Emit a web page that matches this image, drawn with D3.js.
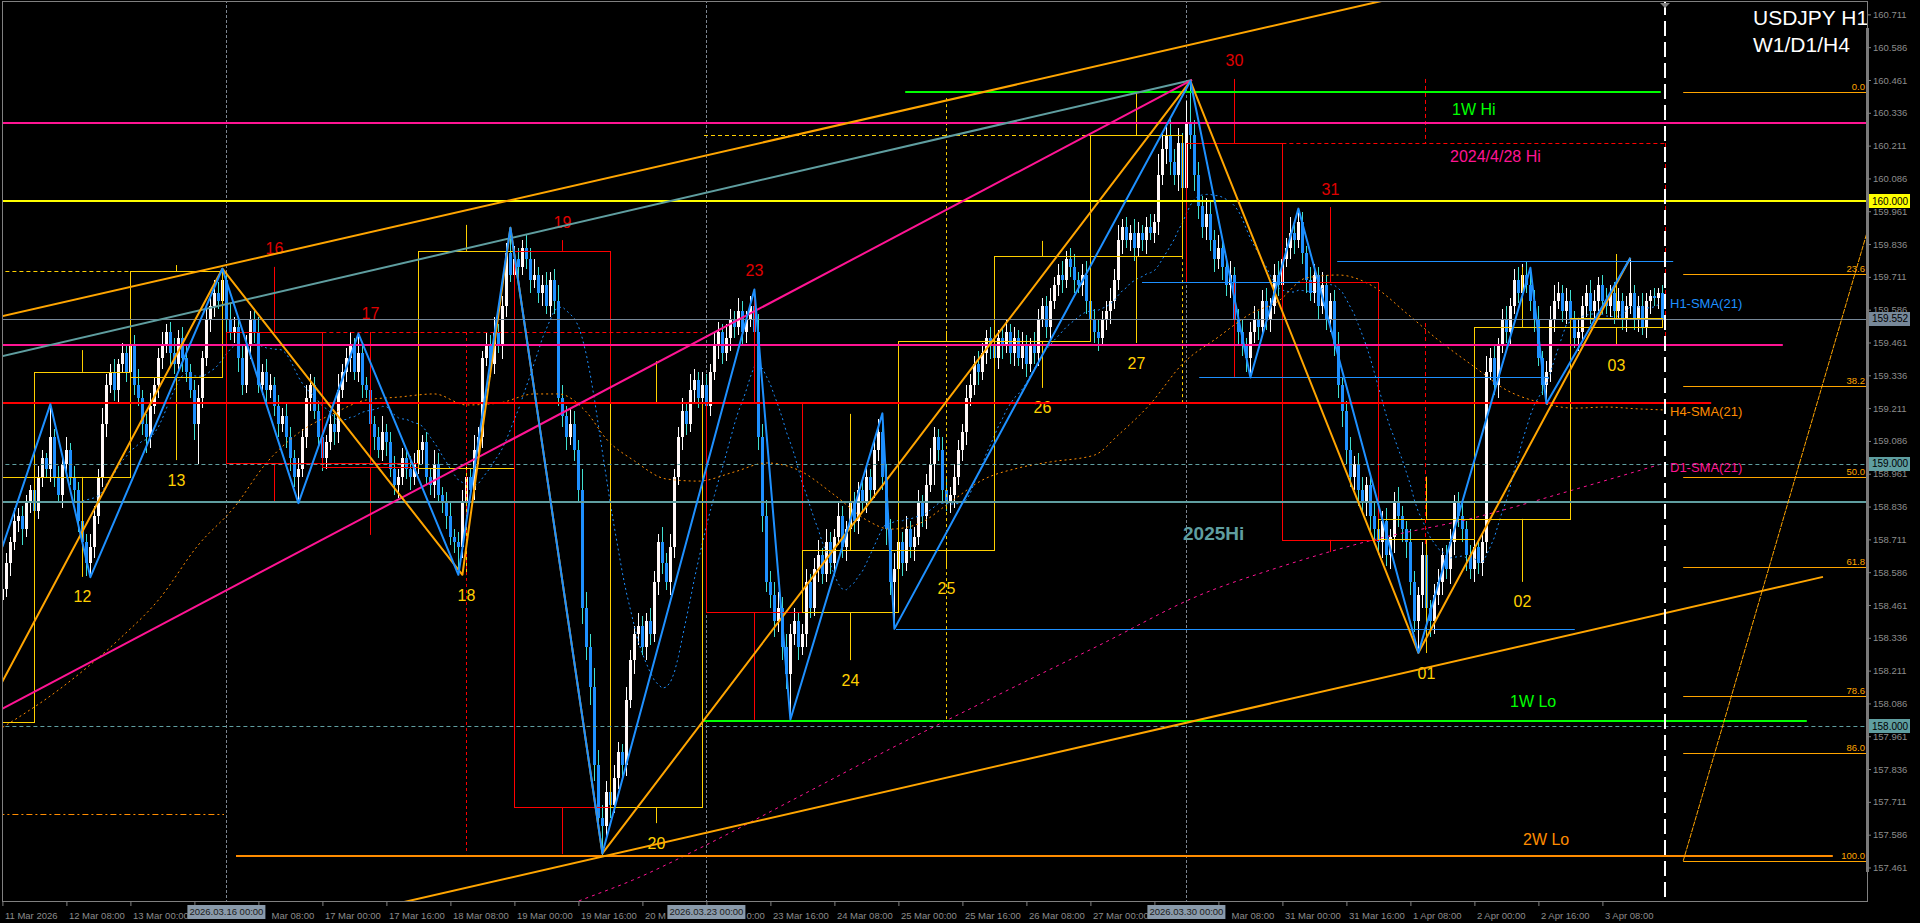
<!DOCTYPE html>
<html><head><meta charset="utf-8">
<script src="https://cdn.jsdelivr.net/npm/d3@7/dist/d3.min.js"></script>
<style>
html,body{margin:0;padding:0;background:#000;overflow:hidden;}
svg{display:block;}
text{font-family:"Liberation Sans",Arial,sans-serif;}
</style></head>
<body>
<svg id="chart" width="1920" height="923"></svg>
<script>
// ---------- DATA (USDJPY H1, bar 0 = 11 Mar 2026 16:00) ----------
const firstOpen = 158.48;
const closes = [
158.52,158.62,158.70,158.78,158.80,158.75,158.85,158.90,158.82,158.95,159.02,158.98,159.10,
158.95,158.88,159.00,159.05,158.95,158.90,158.78,158.70,158.62,158.68,158.80,
158.95,159.15,159.30,159.35,159.28,159.38,159.42,159.35,159.45,159.30,159.25,159.15,159.10,159.22,159.30,159.40,159.45,159.50,159.42,159.38,159.48,159.40,159.35,159.28,159.15,159.25,159.40,159.55,159.60,159.65,159.62,159.70,
159.55,159.50,159.52,159.40,159.30,159.45,159.55,159.50,159.30,159.35,159.28,159.30,159.22,159.15,159.18,159.10,159.02,158.95,158.98,
159.10,159.25,159.30,159.20,159.10,159.02,159.08,159.15,159.12,159.28,159.35,159.40,159.45,159.35,159.42,
159.30,159.28,159.15,159.10,159.05,159.12,159.08,158.98,158.92,158.95,159.02,158.98,158.95,159.00,159.05,159.08,158.95,158.92,159.00,158.88,158.85,158.80,158.72,158.70,158.68,
158.85,158.95,158.90,159.05,159.10,159.40,159.45,159.38,159.50,159.45,159.60,159.80,159.72,
159.78,159.75,159.82,159.78,159.70,159.72,159.65,159.68,159.60,159.70,159.62,159.25,159.18,159.10,159.15,159.05,158.90,158.45,158.30,158.15,157.85,157.65,157.62,
157.75,157.70,157.80,157.90,157.85,158.10,158.25,158.35,158.38,158.30,158.40,158.35,158.55,158.70,158.62,158.55,158.68,158.95,159.10,159.20,159.15,159.28,159.32,159.25,159.30,159.22,159.35,159.45,159.50,159.42,159.48,159.55,159.52,159.58,159.50,159.55,159.60,159.50,
159.10,158.80,158.55,158.50,158.40,158.45,158.30,158.20,158.35,
158.40,158.30,158.35,158.55,158.45,158.60,158.65,158.58,158.70,158.62,158.72,158.80,158.68,158.75,158.85,158.78,158.90,158.85,158.95,158.90,159.05,159.12,158.95,
158.75,158.55,158.60,
158.70,158.62,158.75,158.68,158.72,158.85,158.80,158.92,159.00,159.10,159.05,158.90,158.85,158.88,158.95,159.05,159.12,159.25,159.30,159.38,159.35,159.42,159.48,159.45,159.40,159.48,159.45,159.50,159.42,159.48,159.40,159.45,159.38,159.45,159.42,159.55,159.60,159.52,159.62,159.68,159.72,159.70,159.78,159.75,159.70,159.68,159.72,159.62,159.55,159.50,159.48,159.55,159.58,159.62,159.70,159.85,159.90,159.85,159.88,159.82,159.88,159.85,159.90,159.88,159.92,160.10,160.20,160.25,160.15,160.10,160.22,160.05,160.30,160.25,
160.10,159.98,159.90,159.95,159.85,159.78,159.82,159.75,159.68,159.72,159.55,159.50,159.45,159.40,159.50,
159.55,159.52,159.62,159.55,159.60,159.72,159.68,159.78,159.82,159.88,159.85,159.92,
159.80,159.70,159.65,159.72,159.60,159.68,159.55,159.62,159.45,159.30,159.20,159.05,158.95,159.00,158.90,158.85,158.92,158.80,158.75,158.70,158.78,158.65,158.72,158.85,158.80,158.75,158.70,158.55,158.40,158.50,
158.65,158.45,158.40,158.50,158.55,158.65,158.60,158.70,158.85,158.80,158.75,158.65,158.60,158.68,158.62,158.70,159.35,159.40,159.30,159.45,159.55,159.50,159.60,159.70,159.65,159.72,159.68,159.62,
159.55,159.40,159.30,159.35,
159.55,159.62,159.65,159.58,159.62,159.55,159.48,159.50,159.60,159.65,159.58,159.62,159.68,159.62,159.60,159.65,159.58,159.62,159.55,159.60,159.65,
159.55,159.60,159.52,159.62,159.64,159.63,159.65,159.552
];
// upper / lower wick lengths in 0.01 JPY
const wickUp = [
3,4,2,5,3,4,3,2,5,4,3,2,13,3,4,2,5,3,4,3,
2,3,5,4,3,6,4,3,5,2,4,3,5,4,6,3,4,5,3,4,
5,3,4,6,3,4,5,3,4,5,3,4,3,5,4,4,3,6,4,3,
5,4,3,4,6,3,5,4,3,4,3,5,4,3,4,3,5,4,3,4,
4,3,5,4,6,3,4,5,3,8,4,3,5,3,4,6,3,4,5,3,
4,3,5,4,6,3,4,3,5,4,3,4,5,3,4,5,4,3,6,4,
3,5,4,6,3,4,4,10,5,4,3,5,4,6,3,4,5,3,4,6,
5,4,6,5,4,8,6,5,7,6,5,4,6,5,4,3,5,4,3,5,
4,3,5,4,3,6,4,5,3,4,5,3,6,4,3,5,4,3,5,4,
3,5,4,3,5,4,3,4,6,7,5,6,4,5,6,4,5,4,5,3,
4,5,3,4,6,3,5,4,3,5,4,3,5,4,3,5,4,3,4,5,
7,5,4,6,3,4,5,3,4,5,3,4,6,4,3,5,4,3,5,4,
3,5,4,3,5,4,3,4,5,3,4,5,3,4,3,5,4,3,5,4,
3,4,5,3,4,5,3,4,5,3,4,5,3,4,5,3,4,5,4,6,
3,4,3,5,4,3,4,5,3,8,6,5,7,5,6,4,8,16,6,5,
4,6,5,4,5,3,4,5,3,4,5,3,4,5,3,4,5,3,4,5,
3,4,6,3,5,4,3,5,4,3,5,4,3,4,5,3,4,5,3,4,
5,3,4,5,3,4,5,3,4,6,4,3,5,4,3,5,4,3,4,5,
3,4,5,3,4,5,3,4,5,3,4,6,4,5,3,4,5,3,4,5,
4,5,7,4,5,3,4,5,6,4,3,5,4,3,5,4,3,5,4,3,
4,5,3,4,5,3,4,13,3,4,5,3,2,3,2,3
];
const wickDn = [
4,3,5,3,4,6,3,4,5,3,4,3,5,4,3,5,4,3,5,4,
3,5,5,4,3,4,5,3,4,5,3,4,5,4,3,4,6,4,3,5,
4,3,5,4,3,5,4,3,6,15,4,3,5,4,3,4,5,3,4,5,
4,3,5,4,3,4,5,3,4,5,3,4,5,4,10,3,4,5,3,4,
5,4,3,5,4,3,4,5,3,4,5,3,4,5,3,4,5,3,4,5,
3,4,5,3,4,5,3,4,5,3,4,5,3,4,10,4,5,3,4,5,
4,3,5,4,3,5,4,3,4,5,3,4,5,3,4,5,3,4,5,3,
4,5,3,4,5,6,5,7,6,5,11,4,5,3,4,5,4,3,5,4,
3,5,4,3,5,4,3,5,4,3,5,4,3,5,4,3,5,4,3,5,
4,3,5,4,3,5,4,3,4,5,6,4,5,6,4,5,6,18,4,5,
3,5,4,3,5,4,3,4,5,3,4,5,3,4,5,3,4,5,3,4,
5,6,5,18,4,5,3,4,5,3,4,5,3,8,4,5,3,4,5,3,
4,5,3,4,5,3,4,5,3,4,5,3,4,5,3,4,5,3,4,5,
3,4,5,3,4,5,3,4,5,3,4,5,3,4,5,3,4,5,3,4,
5,3,4,5,3,4,5,3,4,5,4,6,5,4,6,5,4,5,6,5,
4,5,4,5,4,5,4,5,4,5,4,5,7,4,5,3,4,5,3,4,
5,3,4,5,3,4,5,3,4,5,3,4,5,4,5,6,5,4,5,6,
4,5,6,4,5,6,4,5,6,4,5,6,5,4,12,5,4,6,5,4,
5,4,6,5,4,5,6,4,5,4,5,4,3,4,5,3,4,5,3,4,
5,3,4,5,3,4,7,4,5,3,4,5,3,4,5,3,4,5,3,4,
5,3,4,5,3,4,5,3,4,5,3,4,5,3,4,3
];

const priceTicks = [160.711,160.586,160.461,160.336,160.211,160.086,159.961,159.836,159.711,159.586,159.461,159.336,159.211,159.086,158.961,158.836,158.711,158.586,158.461,158.336,158.211,158.086,157.961,157.836,157.711,157.586,157.461];
const timeTickIdx = [0,16,32,48,64,80,96,112,128,144,160,176,192,208,224,240,256,272,288,304,320,336,352,368,384,400];
const timeLabels = ["11 Mar 2026","12 Mar 08:00","13 Mar 00:00","13 Mar 16:00","16 Mar 08:00","17 Mar 00:00","17 Mar 16:00","18 Mar 08:00","19 Mar 00:00","19 Mar 16:00","20 Mar 08:00","23 Mar 00:00","23 Mar 16:00","24 Mar 08:00","25 Mar 00:00","25 Mar 16:00","26 Mar 08:00","27 Mar 00:00","27 Mar 16:00","30 Mar 08:00","31 Mar 00:00","31 Mar 16:00","1 Apr 08:00","2 Apr 00:00","2 Apr 16:00","3 Apr 08:00"];
const separatorIdx = [56,176,296];
const separatorLabels = ["2026.03.16 00:00","2026.03.23 00:00","2026.03.30 00:00"];

// daily candles (boxes)
const dayStart = [-16,8,32,56,80,104,128,152,176,200,224,248,272,296,320,344,368,392];
const dayEnd   = [8,32,55,80,104,128,152,175,200,224,248,272,295,320,344,368,392,415];
const dayOpen  = [158.015,158.949,159.330,159.501,159.002,158.983,159.810,157.691,159.230,158.434,158.670,159.467,159.790,160.221,159.691,158.712,158.789,159.520];
const dayClose = [158.949,159.349,159.733,159.002,158.987,159.810,157.691,159.234,158.434,158.670,159.467,159.790,160.251,159.691,158.709,158.789,159.520,159.554];
const dayHigh  = [158.949,159.432,159.756,159.749,159.501,159.909,159.851,159.390,159.665,159.189,159.505,159.848,160.415,160.465,159.977,158.950,159.749,159.798];
const dayLow   = [158.015,158.568,159.013,158.853,158.728,158.575,157.512,157.630,158.023,158.251,158.600,159.288,159.459,159.330,158.663,158.278,158.549,159.451];
const dayLabel = ["","12","13","16","17","18","19","20","23","24","25","26","27","30","31","01","02","03"];

// zigzags (bar index, price)
const zzBlueIdx = [0,12,22,55,74,89,114,127,150,188,197,220,223,297,312,324,354,382,386,407];
const zzBluePx  = [158.682,159.226,158.567,159.742,158.849,159.495,158.576,159.898,157.515,159.663,158.025,159.191,158.370,160.457,159.328,159.971,158.279,159.746,159.229,159.784];
const zzOrangeIdx = [-0.6,55,115,127,150,297,354,407];
const zzOrangePx  = [158.152,159.742,158.576,159.898,157.515,160.457,158.279,159.784];

// moving averages (higher timeframes)
const h4Idx = [-1,14,29,39,49,58,66,74,83,91,99,108,116,124,133,139,146,151,158,166,174,183,191,199,208,216,222,229,237,245,254,262,273,279,287,295,304,312,319,326,334,343,351,359,368,376,384,393,401,409,415.6];
const h4Val = [157.985,158.137,158.328,158.480,158.690,158.834,159.002,159.116,159.192,159.242,159.253,159.265,159.223,159.230,159.265,159.265,159.196,159.093,159.010,158.941,158.933,158.968,159.002,158.975,158.880,158.785,158.750,158.770,158.853,158.937,158.983,159.006,159.032,159.109,159.227,159.379,159.482,159.570,159.619,159.707,159.718,159.672,159.573,159.470,159.368,159.280,159.234,159.211,159.215,159.208,159.204];
const d1Idx = [124.4,145.4,157.6,174.4,199.4,219.4,249.4,274.4,299.4,319.4,342.7,367.6,392.6,415.6];
const d1Val = [157.223,157.341,157.413,157.535,157.733,157.893,158.122,158.309,158.499,158.606,158.709,158.792,158.899,159.002];

// key levels
const round160 = 160.000, hi20240428 = 160.298, weekHi = 160.416, weekLo = 158.020, twoWeekLo = 157.505;
const redLevel = 159.230, pinkLevel = 159.453, hi2025 = 158.854, bidPrice = 159.552;
const fibRatios = [0,23.6,38.2,50.0,61.8,78.6,86.0,100.0];
const fibHigh = 160.414, fibLow = 157.486;

// ---------- DRAW ----------
const W = 1920, H = 923, plotRight = 1867, plotBottom = 901;
const x = d3.scaleLinear().domain([0,415]).range([2.4,1662.4]);
const y = d3.scaleLinear().domain([159,160]).range([463.5,201]);
const svg = d3.select('#chart');
svg.append('rect').attr('width',W).attr('height',H).attr('fill','#000');
svg.append('defs').append('clipPath').attr('id','plotclip').append('rect')
  .attr('x',3).attr('y',2).attr('width',plotRight-3).attr('height',plotBottom-2);
const plot = svg.append('g').attr('clip-path','url(#plotclip)');

const py = (p,w) => (w%2===1) ? Math.round(y(p))+0.5 : Math.round(y(p));
const px = (i,w) => (w%2===1) ? Math.round(x(i))+0.5 : Math.round(x(i));
function hline(p,i1,i2,color,w,dash){
  plot.append('line').attr('x1',x(i1)).attr('x2',x(i2)).attr('y1',py(p,w)).attr('y2',py(p,w))
    .attr('stroke',color).attr('stroke-width',w).attr('stroke-dasharray',dash||null);
}
function vline(i,p1,p2,color,w,dash){
  plot.append('line').attr('x1',px(i,w)).attr('x2',px(i,w)).attr('y1',y(p1)).attr('y2',y(p2))
    .attr('stroke',color).attr('stroke-width',w).attr('stroke-dasharray',dash||null);
}
function seg(i1,p1,i2,p2,color,w,dash){
  plot.append('line').attr('x1',x(i1)).attr('y1',y(p1)).attr('x2',x(i2)).attr('y2',y(p2))
    .attr('stroke',color).attr('stroke-width',w).attr('stroke-dasharray',dash||null);
}
const FULL0 = -1, FULL1 = 470;
const topP = y.invert(0), botP = y.invert(plotBottom);

// period separators
separatorIdx.forEach(i => vline(i, topP, botP, '#7d8691', 1, '3,2'));

// candles
const n = closes.length;
const opens = closes.map((c,i) => i===0 ? firstOpen : closes[i-1]);
const highs = closes.map((c,i) => Math.max(opens[i],c) + wickUp[i]/100);
const lows  = closes.map((c,i) => Math.min(opens[i],c) - wickDn[i]/100);
const cg = plot.append('g').attr('shape-rendering','crispEdges');
cg.selectAll('line').data(d3.range(n)).join('line')
  .attr('x1', i => Math.round(x(i))+0.5).attr('x2', i => Math.round(x(i))+0.5)
  .attr('y1', i => y(highs[i])).attr('y2', i => y(lows[i]))
  .attr('stroke', i => closes[i] >= opens[i] ? '#ffffff' : '#40e0d0').attr('stroke-width',1);
cg.selectAll('rect').data(d3.range(n)).join('rect')
  .attr('x', i => Math.round(x(i))-1).attr('width',3)
  .attr('y', i => Math.round(y(Math.max(opens[i],closes[i]))))
  .attr('height', i => Math.max(1, Math.round(y(Math.min(opens[i],closes[i]))) - Math.round(y(Math.max(opens[i],closes[i])))))
  .attr('fill', i => closes[i] >= opens[i] ? '#fff8f8' : '#1e90ff');

// moving averages
const sma = closes.map((c,i) => i < 20 ? null : d3.mean(closes.slice(i-20, i+1)));
plot.append('path').datum(d3.range(n))
  .attr('d', d3.line().defined(i => sma[i]!==null).x(i => x(i)).y(i => y(sma[i])))
  .attr('fill','none').attr('stroke','#1e90ff').attr('stroke-width',1).attr('stroke-dasharray','2,3');
plot.append('path').datum(d3.range(h4Idx.length))
  .attr('d', d3.line().x(k => x(h4Idx[k])).y(k => y(h4Val[k])).curve(d3.curveMonotoneX))
  .attr('fill','none').attr('stroke','#ff8c00').attr('stroke-width',1).attr('stroke-dasharray','2,3');
plot.append('path').datum(d3.range(d1Idx.length))
  .attr('d', d3.line().x(k => x(d1Idx[k])).y(k => y(d1Val[k])).curve(d3.curveMonotoneX))
  .attr('fill','none').attr('stroke','#ff1493').attr('stroke-width',1).attr('stroke-dasharray','3,4');

// daily boxes
const dg = plot.append('g');
dayStart.forEach((s,k) => {
  const bull = dayClose[k] >= dayOpen[k];
  const col = bull ? '#ffd000' : '#ff0000';
  const top = Math.max(dayOpen[k],dayClose[k]), bot = Math.min(dayOpen[k],dayClose[k]);
  const x1 = Math.round(x(s))+0.5, x2 = Math.round(x(dayEnd[k]))+0.5;
  dg.append('rect').attr('x',x1).attr('y',py(top,1)).attr('width',x2-x1)
    .attr('height',Math.max(1,py(bot,1)-py(top,1))).attr('fill','none').attr('stroke',col).attr('stroke-width',1);
  const mid = (s + dayEnd[k]) / 2;
  if (dayHigh[k] > top) vline(mid, dayHigh[k], top, col, 1);
  if (dayLow[k] < bot) vline(mid, bot, dayLow[k], col, 1);
  if (dayLabel[k]) {
    dg.append('text').attr('x', x(mid)).attr('y', bull ? y(dayLow[k]) + 20 : y(dayHigh[k]) - 18)
      .attr('text-anchor','middle').attr('dominant-baseline','central')
      .attr('fill', bull ? '#ffd000' : '#e00000').style('font-size','16px').text(dayLabel[k]);
  }
});

// horizontal levels
hline(159.000, FULL0, FULL1, '#5f9ea0', 1, '4,3');
hline(158.000, FULL0, FULL1, '#5f9ea0', 1, '4,3');
hline(bidPrice, FULL0, FULL1, '#778899', 1);
hline(159.733, FULL0, 31.9, '#ffd000', 1, '4,3');
hline(160.251, 175.4, 271.9, '#ffd000', 1, '4,3');
hline(157.665, FULL0, 55.4, '#ff8c00', 1, '6,3,2,3');
hline(159.501, 80, 175, '#ff0000', 1, '4,3');
hline(160.221, 320, 415.65, '#ff0000', 1, '4,3');
vline(115.9, 159.501, 157.512, '#ff0000', 1, '3,3');
vline(355.65, 160.465, 160.221, '#ff0000', 1, '4,3');
vline(355.65, 159.535, 158.682, '#ff0000', 1, '4,3');
vline(415.65, 160.221, 159.482, '#ff0000', 1, '4,3');
vline(235.9, 160.392, 158.015, '#ffd000', 1, '3,3');
vline(294.9, 159.790, 159.227, '#ffd000', 1, '3,3');
hline(159.691, 284.9, 324.4, '#1e90ff', 1);
hline(159.771, 333.7, 417.7, '#1e90ff', 1);
hline(159.330, 299.2, 386.6, '#1e90ff', 1);
hline(158.370, 223.4, 393.1, '#1e90ff', 1);
hline(round160, FULL0, FULL1, '#ffff00', 2);
hline(hi20240428, FULL0, FULL1, '#ff1493', 2);
hline(pinkLevel, FULL0, 445.1, '#ff1493', 2);
hline(redLevel, FULL0, 427.2, '#ff0000', 2);
hline(hi2025, FULL0, FULL1, '#5f9ea0', 2);
hline(weekHi, 225.7, 414.6, '#00ff00', 2);
hline(weekLo, 175.4, 451.1, '#00ff00', 2);
hline(twoWeekLo, 58.4, 457.6, '#ff8c00', 2);

// long trend lines
seg(-0.6, 159.559, 350, 160.780, '#ffa500', 2);
seg(99.4, 157.326, 455.15, 158.568, '#ffa500', 2);
seg(-0.6, 159.407, 297.4, 160.461, '#5f9ea0', 2);
seg(-0.6, 158.061, 297.4, 160.461, '#ff1493', 2);

// zigzags
plot.append('path').datum(d3.range(zzOrangeIdx.length))
  .attr('d', d3.line().x(k => x(zzOrangeIdx[k])).y(k => y(zzOrangePx[k])))
  .attr('fill','none').attr('stroke','#ffa500').attr('stroke-width',2).attr('stroke-linejoin','round');
plot.append('path').datum(d3.range(zzBlueIdx.length))
  .attr('d', d3.line().x(k => x(zzBlueIdx[k])).y(k => y(zzBluePx[k])))
  .attr('fill','none').attr('stroke','#1e90ff').attr('stroke-width',2).attr('stroke-linejoin','round');

// fibonacci
const fibX1 = 420.2, fibX2 = 466.4;
fibRatios.forEach(r => {
  const p = fibHigh - (fibHigh - fibLow) * r / 100;
  hline(p, fibX1, fibX2, '#ffa500', 1);
  plot.append('text').attr('x', x(465.65)).attr('y', py(p,1) - 3).attr('text-anchor','end')
    .attr('fill','#ffa500').style('font-size','9.5px').text(r.toFixed(1));
});
seg(fibX1, fibLow, 476.4, fibHigh, '#ffa500', 1, '5,1');

// white dashed "now" line
vline(415.65, topP, botP, '#ffffff', 2, '15,6');

// texts
function label(txt, i, p, color, size, weight){
  plot.append('text').attr('x', x(i)).attr('y', y(p)).attr('fill', color)
    .style('font-size', size + 'px').style('font-weight', weight || 'normal').text(txt);
}
label('1W Hi', 362.4, 160.328, '#00ff00', 16);
label('2024/4/28 Hi', 361.9, 160.149, '#ff1493', 16);
label('1W Lo', 376.9, 158.072, '#00ff00', 16);
label('2W Lo', 380.15, 157.547, '#ff8c00', 16);
label('2025Hi', 295.15, 158.709, '#5f9ea0', 19, 'bold');
label('H1-SMA(21)', 416.9, 159.592, '#1e90ff', 13);
label('H4-SMA(21)', 416.9, 159.181, '#ff8c00', 13);
label('D1-SMA(21)', 416.9, 158.968, '#ff1493', 13);
svg.append('text').attr('x',1753).attr('y',25).attr('fill','#ffffff').style('font-size','21px').text('USDJPY H1');
svg.append('text').attr('x',1753).attr('y',52).attr('fill','#ffffff').style('font-size','21px').text('W1/D1/H4');

// frame
const frame = svg.append('g').attr('shape-rendering','crispEdges');
frame.append('line').attr('x1',2.5).attr('x2',2.5).attr('y1',1).attr('y2',plotBottom).attr('stroke','#808080');
frame.append('line').attr('x1',2).attr('x2',plotRight).attr('y1',1.5).attr('y2',1.5).attr('stroke','#808080');
frame.append('line').attr('x1',plotRight+0.5).attr('x2',plotRight+0.5).attr('y1',1).attr('y2',plotBottom+1).attr('stroke','#808080');
frame.append('line').attr('x1',2).attr('x2',plotRight+1).attr('y1',plotBottom+0.5).attr('y2',plotBottom+0.5).attr('stroke','#808080');
frame.append('rect').attr('x',plotRight-1).attr('y',28).attr('width',3).attr('height',844).attr('fill','#7a7a7a');
svg.append('path').attr('d', `M${x(415.65)-5},3 L${x(415.65)+5},3 L${x(415.65)},8 Z`).attr('fill','#808080');

// right price axis
const yAxis = d3.axisRight(y).tickValues(priceTicks).tickFormat(d3.format('.3f')).tickSize(4).tickPadding(2);
svg.append('g').attr('transform', `translate(${plotRight},0)`).call(yAxis)
  .call(g => g.select('.domain').remove())
  .call(g => g.selectAll('line').attr('stroke','#808080'))
  .call(g => g.selectAll('text').attr('fill','#8c8c8c').style('font-size','9.5px').style('font-family','"Liberation Sans",Arial,sans-serif'));

// bottom time axis
const sepBoxes = separatorIdx.map(i => [x(i)-39, x(i)+39]);
const xAxis = d3.axisBottom(x).tickValues(timeTickIdx).tickFormat((d,k) => timeLabels[k]).tickSize(5).tickPadding(6);
svg.append('g').attr('transform', `translate(0,${plotBottom})`).call(xAxis)
  .call(g => g.select('.domain').remove())
  .call(g => g.selectAll('line').attr('stroke','#808080'))
  .call(g => g.selectAll('text').attr('text-anchor','start').attr('x',2).attr('fill','#8c8c8c')
    .style('font-size','9.5px').style('font-family','"Liberation Sans",Arial,sans-serif'))
  .call(g => g.selectAll('text').each(function(d){
    // the separator date tags hide the part of a label that lies under them
    const el = this, full = el.textContent, xs = x(d) + 2;
    const w = k => { el.textContent = full.slice(0,k); return k ? el.getComputedTextLength() : 0; };
    const wf = w(full.length);
    el.textContent = full;
    for (const [b1,b2] of sepBoxes) {
      if (xs + wf <= b1 + 3 || xs >= b2) continue;
      if (xs < b1) {
        let k = full.length; while (k > 0 && xs + w(k) > b1 + 3) k--;
        el.textContent = full.slice(0,k);
      } else {
        let k = 0; while (k < full.length && xs + w(k) < b2 + 0.5) k++;
        const off = w(k); el.textContent = full.slice(k);
        d3.select(el).attr('x', 2 + off);
      }
      break;
    }
    if (!el.textContent.trim()) d3.select(el).remove();
  }));

// highlighted axis labels
function priceTag(p, bg, fg){
  const g = svg.append('g');
  g.append('rect').attr('x',plotRight+2).attr('y',Math.round(y(p))-7).attr('width',41).attr('height',14).attr('fill',bg);
  g.append('text').attr('x',plotRight+5).attr('y',y(p)).attr('dy','0.35em').attr('fill',fg)
    .style('font-size','10px').text(p.toFixed(3));
}
priceTag(round160, '#ffff00', '#000');
priceTag(bidPrice, '#778899', '#000');
priceTag(159.000, '#5f9ea0', '#000');
priceTag(158.000, '#5f9ea0', '#000');
separatorIdx.forEach((i,k) => {
  const g = svg.append('g');
  g.append('rect').attr('x', x(i)-39).attr('y', 905).attr('width', 78).attr('height', 14).attr('fill','#8a9aaa');
  g.append('text').attr('x', x(i)).attr('y', 912).attr('dy','0.35em').attr('text-anchor','middle')
    .attr('fill','#1a1a1a').style('font-size','9.5px').text(separatorLabels[k]);
});
</script>
</body></html>
